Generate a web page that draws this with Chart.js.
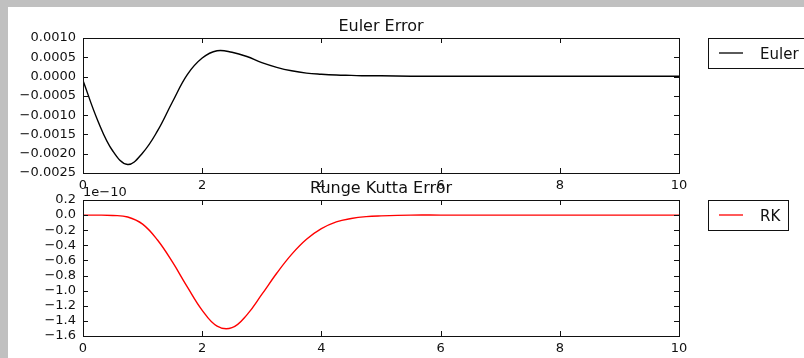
<!DOCTYPE html>
<html>
<head>
<meta charset="utf-8">
<script src="https://cdn.jsdelivr.net/npm/chart.js@4/dist/chart.umd.min.js"></script>
<style>
  html, body { margin: 0; padding: 0; background: #c0c0c0; overflow: hidden; }
  #sheet { position: absolute; left: 8px; top: 7px; width: 796px; height: 351px; background: #fff; }
  canvas { position: absolute; left: 0; top: 0; }
</style>
</head>
<body>
<div id="sheet"></div>
<canvas id="eulerChart" width="804" height="358"></canvas>
<canvas id="rkChart" width="804" height="358"></canvas>
<script>
// time samples shared by both error curves
const t = [0, 0.25, 0.5, 0.75, 1, 1.25, 1.5, 1.75, 2, 2.25, 2.5, 2.75, 3, 3.25, 3.5, 3.75,
           4, 4.25, 4.5, 4.75, 5, 5.5, 6, 7, 8, 9, 10];

// Euler method error
const eulerErr = [-0.0001, -0.00115, -0.00193, -0.00228, -0.00198, -0.00141, -0.00066, 0.00005,
                  0.00048, 0.00067, 0.00063, 0.00052, 0.00036, 0.00024, 0.00015, 0.00009,
                  0.00006, 0.00004, 0.00003, 0.00002, 0.00002, 0.00001, 0.00001, 0.00001,
                  0.00001, 0.00001, 0.00001];

// Runge Kutta error, in units of 1e-10
const rkErr = [0, 0, -0.005, -0.025, -0.12, -0.33, -0.62, -0.95, -1.26, -1.47, -1.49, -1.32,
               -1.05, -0.77, -0.52, -0.32, -0.18, -0.09, -0.045, -0.02, -0.01, 0, 0, 0, 0, 0, 0];

const xTicks = [0, 2, 4, 6, 8, 10];
const eulerTicks = [-0.0025, -0.002, -0.0015, -0.001, -0.0005, 0, 0.0005, 0.001];
const rkTicks = [-1.6, -1.4, -1.2, -1.0, -0.8, -0.6, -0.4, -0.2, 0, 0.2];

const FONT = 'DejaVu Sans';
const INK = '#111';

Chart.defaults.font.family = FONT;
Chart.defaults.font.size = 13;
Chart.defaults.color = INK;

const minus = s => s.replace('-', '\u2212');

// box around the axes, inward ticks on all sides, title, legend and offset text
const frame = {
  id: 'frame',
  afterDraw(chart, args, opts) {
    const ctx = chart.ctx;
    const a = chart.chartArea;
    const xs = chart.scales.x, ys = chart.scales.y;
    ctx.save();
    ctx.strokeStyle = INK;
    ctx.lineWidth = 1;
    ctx.strokeRect(a.left + 0.5, a.top + 0.5, a.right - a.left, a.bottom - a.top);

    ctx.beginPath();
    xs.ticks.forEach(tk => {
      const px = Math.round(xs.getPixelForValue(tk.value)) + 0.5;
      ctx.moveTo(px, a.bottom); ctx.lineTo(px, a.bottom - 5);
      ctx.moveTo(px, a.top); ctx.lineTo(px, a.top + 5);
    });
    ys.ticks.forEach(tk => {
      const py = Math.round(ys.getPixelForValue(tk.value)) + 0.5;
      ctx.moveTo(a.left, py); ctx.lineTo(a.left + 5, py);
      ctx.moveTo(a.right, py); ctx.lineTo(a.right - 5, py);
    });
    ctx.stroke();

    ctx.fillStyle = INK;
    ctx.font = '16px "' + FONT + '"';
    ctx.textAlign = 'center';
    ctx.textBaseline = 'alphabetic';
    ctx.fillText(opts.title, (a.left + a.right) / 2, opts.titleY);

    if (opts.offset) {
      ctx.font = '13px "' + FONT + '"';
      ctx.textAlign = 'left';
      ctx.fillText(opts.offset, a.left, a.top - 4);
    }

    // legend box outside the axes on the right
    const ds = chart.data.datasets[0];
    const lb = opts.legendBox;
    ctx.fillStyle = '#fff';
    ctx.fillRect(lb.x, lb.y, lb.w, lb.h);
    ctx.strokeStyle = INK;
    ctx.strokeRect(lb.x + 0.5, lb.y + 0.5, lb.w, lb.h);
    const midY = lb.y + lb.h / 2;
    ctx.strokeStyle = ds.borderColor;
    ctx.lineWidth = 1.3;
    ctx.beginPath();
    ctx.moveTo(lb.x + 11, midY);
    ctx.lineTo(lb.x + 35, midY);
    ctx.stroke();
    ctx.fillStyle = INK;
    ctx.font = '15px "' + FONT + '"';
    ctx.textAlign = 'left';
    ctx.fillText(ds.label, lb.x + 52, midY + 5.5);
    ctx.restore();
  }
};

function makeChart(id, cfg) {
  return new Chart(document.getElementById(id), {
    type: 'line',
    data: {
      datasets: [{
        label: cfg.label,
        data: t.map((x, i) => ({ x: x, y: cfg.values[i] })),
        borderColor: cfg.color,
        borderWidth: 1.4,
        pointRadius: 0,
        tension: 0.4,
        fill: false
      }]
    },
    options: {
      responsive: false,
      animation: false,
      events: [],
      layout: { padding: cfg.padding },
      plugins: {
        legend: { display: false },
        title: { display: false },
        tooltip: { enabled: false },
        frame: cfg.frame
      },
      scales: {
        x: {
          type: 'linear',
          min: 0,
          max: 10,
          afterBuildTicks: s => { s.ticks = xTicks.map(v => ({ value: v })); },
          afterFit: s => { s.height = cfg.xHeight; s.paddingLeft = 0; s.paddingRight = 0; },
          grid: { display: false, drawTicks: false },
          border: { display: false },
          ticks: { padding: 5, maxRotation: 0, autoSkip: false, callback: v => String(v) }
        },
        y: {
          type: 'linear',
          min: cfg.yTicks[0],
          max: cfg.yTicks[cfg.yTicks.length - 1],
          afterBuildTicks: s => { s.ticks = cfg.yTicks.map(v => ({ value: v })); },
          afterFit: s => { s.width = 83; s.paddingTop = 0; s.paddingBottom = 0; },
          grid: { display: false, drawTicks: false },
          border: { display: false },
          ticks: { padding: 7, autoSkip: false, callback: cfg.fmt }
        }
      }
    },
    plugins: [frame]
  });
}

makeChart('eulerChart', {
  label: 'Euler',
  values: eulerErr,
  color: '#000000',
  yTicks: eulerTicks,
  fmt: v => minus((Math.abs(v) < 1e-12 ? 0 : v).toFixed(4)),
  padding: { left: 0, top: 38, right: 125, bottom: 160 },
  xHeight: 25,
  frame: { title: 'Euler Error', titleY: 31, legendBox: { x: 708, y: 38, w: 110, h: 30 } }
});

makeChart('rkChart', {
  label: 'RK',
  values: rkErr,
  color: '#ff0000',
  yTicks: rkTicks,
  fmt: v => minus((Math.abs(v) < 1e-12 ? 0 : v).toFixed(1)),
  padding: { left: 0, top: 200, right: 125, bottom: 2 },
  xHeight: 20,
  frame: { title: 'Runge Kutta Error', titleY: 193, offset: '1e\u221210',
           legendBox: { x: 708, y: 200, w: 80, h: 30 } }
});
</script>
</body>
</html>
